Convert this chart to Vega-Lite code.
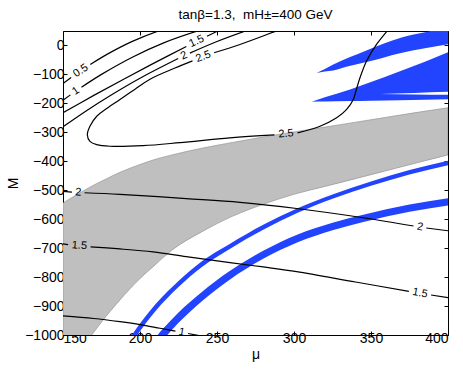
{
  "$schema": "https://vega.github.io/schema/vega-lite/v6.json",
  "width": 385,
  "height": 304,
  "autosize": "none",
  "padding": {"left": 63, "top": 31, "right": 15, "bottom": 35},
  "background": "white",
  "title": {"text": "tanβ=1.3,\u00a0\u00a0mH±=400 GeV", "fontSize": 13.5, "fontWeight": "normal", "font": "Liberation Sans", "color": "black", "offset": 9},
  "config": {
    "font": "Liberation Sans",
    "view": {"stroke": null},
    "axis": {
      "domain": true, "domainColor": "black", "domainWidth": 1,
      "ticks": true, "tickColor": "black", "tickSize": -4, "tickWidth": 1,
      "grid": false, "labelFont": "Liberation Sans", "labelFontSize": 14, "labelColor": "black",
      "titleFont": "Liberation Sans", "titleFontSize": 14, "titleFontWeight": "normal", "titleColor": "black",
      "zindex": 1
    },
    "axisX": {"labelPadding": 0, "titlePadding": 2},
    "axisY": {"labelPadding": 3, "titlePadding": 4}
  },
  "datasets": {
    "gray": [
      {"mu": 150, "M": -544, "M2": -1140},
      {"mu": 160, "M": -512, "M2": -1060},
      {"mu": 168.6, "M": -486, "M2": -1000},
      {"mu": 178, "M": -461, "M2": -935},
      {"mu": 187, "M": -438, "M2": -879},
      {"mu": 200, "M": -411, "M2": -805},
      {"mu": 210, "M": -393, "M2": -757},
      {"mu": 220, "M": -379, "M2": -710},
      {"mu": 240, "M": -355, "M2": -644},
      {"mu": 260, "M": -335, "M2": -590},
      {"mu": 280, "M": -316, "M2": -548.5},
      {"mu": 300, "M": -298.5, "M2": -514},
      {"mu": 320, "M": -282, "M2": -487},
      {"mu": 340, "M": -265, "M2": -460},
      {"mu": 360, "M": -248, "M2": -432.5},
      {"mu": 380, "M": -231, "M2": -405},
      {"mu": 400, "M": -215, "M2": -378}
    ],
    "blue": [
      {"shape": "arc1", "mu": 190, "M": -1038, "M2": -1066},
      {"shape": "arc1", "mu": 196.5, "M": -986.5, "M2": -1013.5},
      {"shape": "arc1", "mu": 210, "M": -894, "M2": -918},
      {"shape": "arc1", "mu": 225, "M": -813.5, "M2": -834.5},
      {"shape": "arc1", "mu": 240, "M": -746, "M2": -766},
      {"shape": "arc1", "mu": 258, "M": -686.5, "M2": -703.5},
      {"shape": "arc1", "mu": 280, "M": -619.5, "M2": -636.5},
      {"shape": "arc1", "mu": 302, "M": -563, "M2": -579},
      {"shape": "arc1", "mu": 325, "M": -514.5, "M2": -529.5},
      {"shape": "arc1", "mu": 350, "M": -469.5, "M2": -484.5},
      {"shape": "arc1", "mu": 375, "M": -430.5, "M2": -445.5},
      {"shape": "arc1", "mu": 400, "M": -398.5, "M2": -413.5},
      {"shape": "arc2", "mu": 205, "M": -1041, "M2": -1083},
      {"shape": "arc2", "mu": 214.6, "M": -980.5, "M2": -1019.5},
      {"shape": "arc2", "mu": 225, "M": -922, "M2": -958},
      {"shape": "arc2", "mu": 240, "M": -852, "M2": -884},
      {"shape": "arc2", "mu": 258, "M": -780, "M2": -810},
      {"shape": "arc2", "mu": 280, "M": -709, "M2": -737},
      {"shape": "arc2", "mu": 302, "M": -653.5, "M2": -680.5},
      {"shape": "arc2", "mu": 325, "M": -612, "M2": -638},
      {"shape": "arc2", "mu": 345, "M": -584.5, "M2": -609.5},
      {"shape": "arc2", "mu": 375, "M": -549.5, "M2": -574.5},
      {"shape": "arc2", "mu": 400, "M": -527.5, "M2": -552.5},
      {"shape": "wedgeA", "mu": 314.7, "M": -95, "M2": -95},
      {"shape": "wedgeA", "mu": 320, "M": -81, "M2": -90},
      {"shape": "wedgeA", "mu": 325.5, "M": -66, "M2": -86},
      {"shape": "wedgeA", "mu": 336, "M": -41, "M2": -71},
      {"shape": "wedgeA", "mu": 347, "M": -17, "M2": -57},
      {"shape": "wedgeA", "mu": 358, "M": 6, "M2": -42},
      {"shape": "wedgeA", "mu": 368.8, "M": 26, "M2": -27},
      {"shape": "wedgeA", "mu": 385, "M": 45.5, "M2": -10},
      {"shape": "wedgeA", "mu": 400, "M": 64, "M2": 4},
      {"shape": "wedgeB", "mu": 311.5, "M": -194, "M2": -194},
      {"shape": "wedgeB", "mu": 320, "M": -179, "M2": -193.2},
      {"shape": "wedgeB", "mu": 336.4, "M": -152, "M2": -191.7},
      {"shape": "wedgeB", "mu": 350, "M": -126, "M2": -190.5},
      {"shape": "wedgeB", "mu": 368.8, "M": -89, "M2": -188.8},
      {"shape": "wedgeB", "mu": 385, "M": -56, "M2": -187.4},
      {"shape": "wedgeB", "mu": 400, "M": -23, "M2": -186}
    ],
    "sliver": [
      {"mu": 355.8, "M": -168, "M2": -168},
      {"mu": 378, "M": -164, "M2": -169.2},
      {"mu": 400, "M": -160, "M2": -170}
    ],
    "contours": [
      {"seg": "c05a", "mu": 150, "M": -131.4},
      {"seg": "c05a", "mu": 155.3, "M": -110.5},
      {"seg": "c05b", "mu": 167.7, "M": -65.5},
      {"seg": "c05b", "mu": 180, "M": -26.5},
      {"seg": "c05b", "mu": 195, "M": 14.1},
      {"seg": "c05b", "mu": 213, "M": 52.1},
      {"seg": "c05b", "mu": 220, "M": 63.7},
      {"seg": "c1a", "mu": 150, "M": -189},
      {"seg": "c1a", "mu": 154.8, "M": -170.6},
      {"seg": "c1b", "mu": 162, "M": -144.2},
      {"seg": "c1b", "mu": 175, "M": -99.8},
      {"seg": "c1b", "mu": 195, "M": -40.4},
      {"seg": "c1b", "mu": 215, "M": 8.3},
      {"seg": "c1b", "mu": 238.5, "M": 52},
      {"seg": "c1b", "mu": 245, "M": 61.5},
      {"seg": "c15a", "mu": 150, "M": -232},
      {"seg": "c15a", "mu": 170, "M": -172.4},
      {"seg": "c15a", "mu": 190, "M": -114.6},
      {"seg": "c15a", "mu": 210, "M": -58.4},
      {"seg": "c15a", "mu": 230.1, "M": -3.7},
      {"seg": "c15b", "mu": 243.5, "M": 31.9},
      {"seg": "c15b", "mu": 252, "M": 54},
      {"seg": "c15b", "mu": 256, "M": 64.3},
      {"seg": "c2a", "mu": 150, "M": -281},
      {"seg": "c2a", "mu": 165, "M": -226.3},
      {"seg": "c2a", "mu": 180, "M": -175.3},
      {"seg": "c2a", "mu": 200, "M": -113.1},
      {"seg": "c2a", "mu": 224.8, "M": -45.1},
      {"seg": "c2b", "mu": 232.4, "M": -26.3},
      {"seg": "c2b", "mu": 250, "M": 13.7},
      {"seg": "c2b", "mu": 269.5, "M": 52},
      {"seg": "c2b", "mu": 275, "M": 61.7},
      {"seg": "c25a", "mu": 295, "M": 62},
      {"seg": "c25a", "mu": 289.6, "M": 52},
      {"seg": "c25a", "mu": 264.9, "M": 3.5},
      {"seg": "c25a", "mu": 248.1, "M": -25},
      {"seg": "c25b", "mu": 234.1, "M": -53},
      {"seg": "c25b", "mu": 222.7, "M": -78},
      {"seg": "c25b", "mu": 206.5, "M": -116.5},
      {"seg": "c25b", "mu": 196.8, "M": -151},
      {"seg": "c25b", "mu": 187, "M": -186.8},
      {"seg": "c25b", "mu": 178.4, "M": -218},
      {"seg": "c25b", "mu": 171.9, "M": -244.5},
      {"seg": "c25b", "mu": 167.5, "M": -279},
      {"seg": "c25b", "mu": 165.8, "M": -308},
      {"seg": "c25b", "mu": 167.5, "M": -331},
      {"seg": "c25b", "mu": 171.9, "M": -342.5},
      {"seg": "c25b", "mu": 180.5, "M": -348},
      {"seg": "c25b", "mu": 202, "M": -346},
      {"seg": "c25b", "mu": 226, "M": -335.5},
      {"seg": "c25b", "mu": 258.4, "M": -319},
      {"seg": "c25b", "mu": 287.3, "M": -308.9},
      {"seg": "c25c", "mu": 302.3, "M": -302},
      {"seg": "c25c", "mu": 316.9, "M": -279},
      {"seg": "c25c", "mu": 327.7, "M": -250},
      {"seg": "c25c", "mu": 334.2, "M": -221},
      {"seg": "c25c", "mu": 338.5, "M": -186.8},
      {"seg": "c25c", "mu": 339.6, "M": -168.4},
      {"seg": "c25c", "mu": 342.9, "M": -110.6},
      {"seg": "c25c", "mu": 347.2, "M": -52.8},
      {"seg": "c25c", "mu": 353.7, "M": 4.6},
      {"seg": "c25c", "mu": 360.6, "M": 51},
      {"seg": "c25c", "mu": 362, "M": 60},
      {"seg": "c2La", "mu": 150, "M": -504},
      {"seg": "c2La", "mu": 155.8, "M": -506.4},
      {"seg": "c2Lb", "mu": 164, "M": -508.6},
      {"seg": "c2Lb", "mu": 187, "M": -514},
      {"seg": "c2Lb", "mu": 230, "M": -529},
      {"seg": "c2Lb", "mu": 265, "M": -542},
      {"seg": "c2Lb", "mu": 301.7, "M": -563},
      {"seg": "c2Lb", "mu": 345, "M": -595},
      {"seg": "c2Lb", "mu": 377.6, "M": -623.6},
      {"seg": "c2Lc", "mu": 385.9, "M": -630.4},
      {"seg": "c2Lc", "mu": 400, "M": -640},
      {"seg": "c15La", "mu": 150, "M": -685},
      {"seg": "c15La", "mu": 153.3, "M": -687.7},
      {"seg": "c15Lb", "mu": 167.9, "M": -695.3},
      {"seg": "c15Lb", "mu": 185, "M": -702},
      {"seg": "c15Lb", "mu": 208.5, "M": -713},
      {"seg": "c15Lb", "mu": 230, "M": -729},
      {"seg": "c15Lb", "mu": 258.4, "M": -750},
      {"seg": "c15Lb", "mu": 280, "M": -765},
      {"seg": "c15Lb", "mu": 301.7, "M": -781},
      {"seg": "c15Lb", "mu": 340, "M": -817},
      {"seg": "c15Lb", "mu": 374.6, "M": -849.3},
      {"seg": "c15Lc", "mu": 389, "M": -861.9},
      {"seg": "c15Lc", "mu": 400, "M": -871},
      {"seg": "c1La", "mu": 150, "M": -934},
      {"seg": "c1La", "mu": 170, "M": -943},
      {"seg": "c1La", "mu": 187, "M": -954},
      {"seg": "c1La", "mu": 200, "M": -964},
      {"seg": "c1La", "mu": 213, "M": -976.7},
      {"seg": "c1La", "mu": 223, "M": -986.5},
      {"seg": "c1Lb", "mu": 231.3, "M": -994.8},
      {"seg": "c1Lb", "mu": 245, "M": -1009}
    ],
    "labels": [
      {"id": "a", "txt": "0.5", "mu": 161.5, "M": -87.5},
      {"id": "b", "txt": "1", "mu": 158.4, "M": -157.1},
      {"id": "c", "txt": "1.5", "mu": 236.8, "M": 14.1},
      {"id": "d", "txt": "2", "mu": 228.6, "M": -35.5},
      {"id": "e", "txt": "2.5", "mu": 241.1, "M": -39},
      {"id": "f", "txt": "2.5", "mu": 294.8, "M": -305.5},
      {"id": "g", "txt": "2", "mu": 159.9, "M": -507.5},
      {"id": "h", "txt": "1.5", "mu": 160.6, "M": -691.5},
      {"id": "i", "txt": "1", "mu": 227.1, "M": -990.6},
      {"id": "j", "txt": "2", "mu": 381.8, "M": -627},
      {"id": "k", "txt": "1.5", "mu": 381.8, "M": -855.6}
    ]
  },
  "layer": [
    {
      "data": {"name": "gray"},
      "mark": {"type": "area", "clip": true, "fill": "#bfbfbf", "stroke": "#8a8a8a", "strokeWidth": 0.6, "interpolate": "monotone"},
      "encoding": {
        "x": {"field": "mu", "type": "quantitative", "scale": {"domain": [150, 400], "nice": false, "zero": false},
              "axis": {"orient": "bottom", "title": "μ", "values": [150, 200, 250, 300, 350, 400], "format": "d"}},
        "y": {"field": "M", "type": "quantitative", "scale": {"domain": [-1000, 50], "nice": false, "zero": false},
              "axis": {"orient": "left", "title": "M", "values": [-1000, -900, -800, -700, -600, -500, -400, -300, -200, -100, 0], "format": "d"}},
        "y2": {"field": "M2"}
      }
    },
    {
      "data": {"name": "blue"},
      "mark": {"type": "area", "clip": true, "fill": "#2244ff", "interpolate": "monotone"},
      "encoding": {
        "x": {"field": "mu", "type": "quantitative", "scale": {"domain": [150, 400], "nice": false, "zero": false}, "axis": null},
        "y": {"field": "M", "type": "quantitative", "scale": {"domain": [-1000, 50], "nice": false, "zero": false}, "axis": null},
        "y2": {"field": "M2"},
        "detail": {"field": "shape"}
      }
    },
    {
      "data": {"name": "sliver"},
      "mark": {"type": "area", "clip": true, "fill": "white", "interpolate": "monotone"},
      "encoding": {
        "x": {"field": "mu", "type": "quantitative", "scale": {"domain": [150, 400], "nice": false, "zero": false}, "axis": null},
        "y": {"field": "M", "type": "quantitative", "scale": {"domain": [-1000, 50], "nice": false, "zero": false}, "axis": null},
        "y2": {"field": "M2"}
      }
    },
    {
      "data": {"name": "contours"},
      "mark": {"type": "line", "clip": true, "color": "black", "strokeWidth": 1.2, "interpolate": "catmull-rom"},
      "encoding": {
        "x": {"field": "mu", "type": "quantitative", "scale": {"domain": [150, 400], "nice": false, "zero": false},
              "axis": {"orient": "top", "labels": false, "title": null, "values": [150, 200, 250, 300, 350, 400]}},
        "y": {"field": "M", "type": "quantitative", "scale": {"domain": [-1000, 50], "nice": false, "zero": false},
              "axis": {"orient": "right", "labels": false, "title": null, "values": [-1000, -900, -800, -700, -600, -500, -400, -300, -200, -100, 0]}},
        "detail": {"field": "seg"},
        "order": {"value": null}
      }
    },
    {
      "data": {"name": "labels"},
      "transform": [{"filter": "indexof(['a','b'], datum.id) >= 0"}],
      "mark": {"type": "text", "fontSize": 11, "font": "Liberation Sans", "color": "black", "angle": 326, "align": "center", "baseline": "middle"},
      "encoding": {
        "x": {"field": "mu", "type": "quantitative", "scale": {"domain": [150, 400], "nice": false, "zero": false}, "axis": null},
        "y": {"field": "M", "type": "quantitative", "scale": {"domain": [-1000, 50], "nice": false, "zero": false}, "axis": null},
        "text": {"field": "txt"}
      }
    },
    {
      "data": {"name": "labels"},
      "transform": [{"filter": "indexof(['c','d'], datum.id) >= 0"}],
      "mark": {"type": "text", "fontSize": 11, "font": "Liberation Sans", "color": "black", "angle": 335, "align": "center", "baseline": "middle"},
      "encoding": {
        "x": {"field": "mu", "type": "quantitative", "scale": {"domain": [150, 400], "nice": false, "zero": false}, "axis": null},
        "y": {"field": "M", "type": "quantitative", "scale": {"domain": [-1000, 50], "nice": false, "zero": false}, "axis": null},
        "text": {"field": "txt"}
      }
    },
    {
      "data": {"name": "labels"},
      "transform": [{"filter": "datum.id == 'e'"}],
      "mark": {"type": "text", "fontSize": 11, "font": "Liberation Sans", "color": "black", "angle": 340, "align": "center", "baseline": "middle"},
      "encoding": {
        "x": {"field": "mu", "type": "quantitative", "scale": {"domain": [150, 400], "nice": false, "zero": false}, "axis": null},
        "y": {"field": "M", "type": "quantitative", "scale": {"domain": [-1000, 50], "nice": false, "zero": false}, "axis": null},
        "text": {"field": "txt"}
      }
    },
    {
      "data": {"name": "labels"},
      "transform": [{"filter": "datum.id == 'f'"}],
      "mark": {"type": "text", "fontSize": 11, "font": "Liberation Sans", "color": "black", "angle": 355, "align": "center", "baseline": "middle"},
      "encoding": {
        "x": {"field": "mu", "type": "quantitative", "scale": {"domain": [150, 400], "nice": false, "zero": false}, "axis": null},
        "y": {"field": "M", "type": "quantitative", "scale": {"domain": [-1000, 50], "nice": false, "zero": false}, "axis": null},
        "text": {"field": "txt"}
      }
    },
    {
      "data": {"name": "labels"},
      "transform": [{"filter": "indexof(['g','h'], datum.id) >= 0"}],
      "mark": {"type": "text", "fontSize": 11, "font": "Liberation Sans", "color": "black", "angle": 4, "align": "center", "baseline": "middle"},
      "encoding": {
        "x": {"field": "mu", "type": "quantitative", "scale": {"domain": [150, 400], "nice": false, "zero": false}, "axis": null},
        "y": {"field": "M", "type": "quantitative", "scale": {"domain": [-1000, 50], "nice": false, "zero": false}, "axis": null},
        "text": {"field": "txt"}
      }
    },
    {
      "data": {"name": "labels"},
      "transform": [{"filter": "indexof(['i','j','k'], datum.id) >= 0"}],
      "mark": {"type": "text", "fontSize": 11, "font": "Liberation Sans", "color": "black", "angle": 10, "align": "center", "baseline": "middle"},
      "encoding": {
        "x": {"field": "mu", "type": "quantitative", "scale": {"domain": [150, 400], "nice": false, "zero": false}, "axis": null},
        "y": {"field": "M", "type": "quantitative", "scale": {"domain": [-1000, 50], "nice": false, "zero": false}, "axis": null},
        "text": {"field": "txt"}
      }
    }
  ],
  "resolve": {"axis": {"x": "independent", "y": "independent"}}
}
